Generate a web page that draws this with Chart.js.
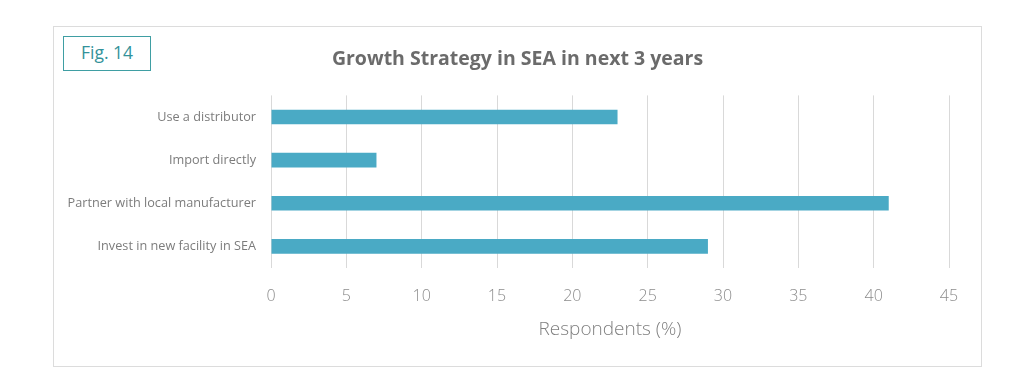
<!DOCTYPE html>
<html>
<head>
<meta charset="utf-8">
<script src="https://cdn.jsdelivr.net/npm/chart.js@4.4.0/dist/chart.umd.min.js"></script>
<style>
  html, body { margin:0; padding:0; background:#fff; width:1024px; height:379px; overflow:hidden; }
  #frame { position:absolute; left:53px; top:26px; width:929px; height:341px; border:1px solid #dcdcdc; box-sizing:border-box; }
  #fig { position:absolute; left:63px; top:36px; width:88px; height:35px; border:1.5px solid #3f9ea3; box-sizing:border-box;
         font-family:"Open Sans", sans-serif; font-size:17.5px; color:#33929a; line-height:31px; text-align:center; }
  #c { position:absolute; left:0; top:0; }
</style>
</head>
<body>
<div id="frame"></div>
<div id="fig">Fig. 14</div>
<canvas id="c" width="1024" height="379"></canvas>
<script>
const categories = ["Use a distributor", "Import directly", "Partner with local manufacturer", "Invest in new facility in SEA"];
const respondents = [23, 7, 41, 29];
const xTicks = [0, 5, 10, 15, 20, 25, 30, 35, 40, 45];
const chartTitle = "Growth Strategy in SEA in next 3 years";
const xAxisTitle = "Respondents (%)";

new Chart(document.getElementById('c'), {
  type: 'bar',
  data: {
    labels: categories,
    datasets: [{
      data: respondents,
      backgroundColor: '#4aaac5',
      borderWidth: 0,
      categoryPercentage: 1,
      barPercentage: 0.34
    }]
  },
  options: {
    indexAxis: 'y',
    responsive: false,
    animation: false,
    events: [],
    layout: { padding: { left: 11, right: 0, top: 0, bottom: 38 } },
    plugins: {
      legend: { display: false },
      tooltip: { enabled: false },
      title: {
        display: true,
        text: chartTitle,
        color: '#6b6b6b',
        font: { family: '"Open Sans", sans-serif', size: 19.5, weight: 'bold', lineHeight: 1.2 },
        padding: { top: 48, bottom: 24 }
      }
    },
    scales: {
      x: {
        min: 0, max: 45,
        afterBuildTicks: (s) => { s.ticks = xTicks.map(v => ({ value: v })); },
        grid: { color: '#d9d9d9', lineWidth: 1, drawTicks: false },
        border: { display: false },
        ticks: { color: '#8c8c8c', padding: 19, font: { family: '"Open Sans", sans-serif', size: 16, weight: '300' } },
        title: { display: true, text: xAxisTitle, color: '#808080', padding: 0,
                 font: { family: '"Open Sans", sans-serif', size: 19, weight: '300' } },
        afterFit: (s) => { s.height = 73; }
      },
      y: {
        grid: { display: false, drawTicks: false },
        border: { display: false },
        ticks: { color: '#7c7c7c', padding: 15, font: { family: '"Open Sans", sans-serif', size: 12.7 } },
        afterFit: (s) => { s.width = 260; }
      },
      yPad: {
        type: 'category',
        position: 'right',
        grid: { display: false, drawTicks: false },
        border: { display: false },
        ticks: { display: false },
        afterFit: (s) => { s.width = 75; }
      }
    }
  }
});
</script>
</body>
</html>
